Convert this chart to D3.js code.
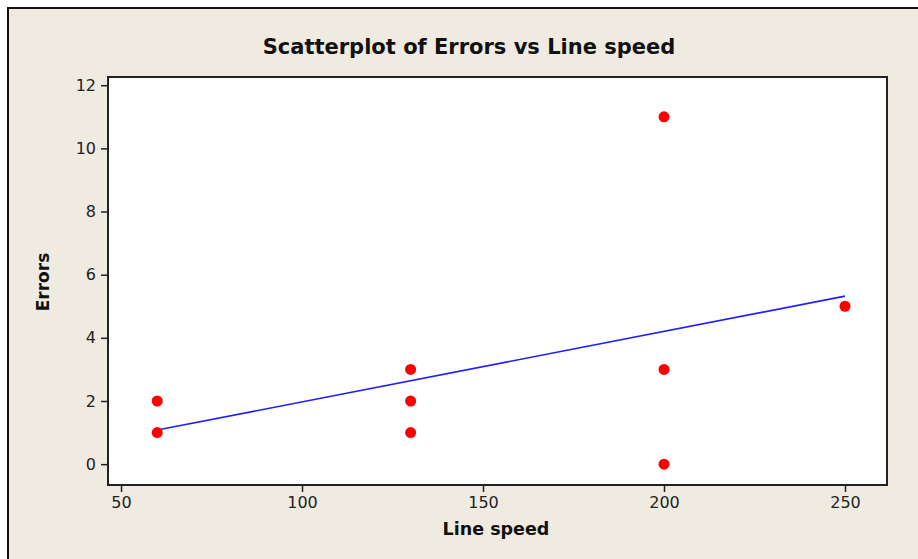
<!DOCTYPE html>
<html>
<head>
<meta charset="utf-8">
<script src="https://cdn.jsdelivr.net/npm/d3@7"></script>
<style>
  body { margin: 0; background: #ffffff; }
  svg { display: block; }
</style>
</head>
<body>
<div id="chart"></div>
<script>
// data
var lineSpeed = [60, 60, 130, 130, 130, 200, 200, 200, 250];
var errors    = [1, 2, 1, 2, 3, 0, 3, 11, 5];
// fitted line end points as drawn
var fitX = [60, 250];
var fitY = [1.08, 5.32];
var xTicks = [50, 100, 150, 200, 250];
var yTicks = [0, 2, 4, 6, 8, 10, 12];

var W = 918, H = 559;
var plot = {left: 108, top: 77, right: 887, bottom: 485};

var svg = d3.select('#chart').append('svg')
    .attr('width', W)
    .attr('height', H);

// beige panel with dark top/left frame
svg.append('rect')
    .attr('x', 0).attr('y', 0).attr('width', W).attr('height', H)
    .attr('fill', '#ffffff');
svg.append('rect')
    .attr('x', 8).attr('y', 8).attr('width', W - 8).attr('height', H - 8)
    .attr('fill', '#efebe1');
svg.append('path')
    .attr('d', 'M8,' + H + 'V8H' + W)
    .attr('fill', 'none')
    .attr('stroke', '#111')
    .attr('stroke-width', 2);

var x = d3.scaleLinear()
    .domain([46.4, 261.6])
    .range([plot.left, plot.right]);
var y = d3.scaleLinear()
    .domain([-0.66, 12.26])
    .range([plot.bottom, plot.top]);

svg.append('rect')
    .attr('x', plot.left).attr('y', plot.top)
    .attr('width', plot.right - plot.left)
    .attr('height', plot.bottom - plot.top)
    .attr('fill', '#ffffff')
    .attr('stroke', '#222')
    .attr('stroke-width', 2);

var font = 'Tahoma, "DejaVu Sans", Verdana, sans-serif';

var xAxis = svg.append('g')
    .attr('transform', `translate(0,${plot.bottom})`)
    .call(d3.axisBottom(x).tickValues(xTicks).tickSize(7).tickPadding(5).tickSizeOuter(0));
var yAxis = svg.append('g')
    .attr('transform', `translate(${plot.left},0)`)
    .call(d3.axisLeft(y).tickValues(yTicks).tickSize(7).tickPadding(5).tickSizeOuter(0));

[xAxis, yAxis].forEach(function(a) {
    a.select('.domain').remove();
    a.selectAll('line').attr('stroke', '#222').attr('stroke-width', 1.5);
    a.selectAll('text')
        .attr('fill', '#222')
        .style('font-family', font)
        .style('font-size', '16px');
});

// regression line
svg.append('path')
    .datum(d3.zip(fitX, fitY))
    .attr('fill', 'none')
    .attr('stroke', '#2020ff')
    .attr('stroke-width', 1.6)
    .attr('d', d3.line()
          .x(function(d) { return x(d[0]); })
          .y(function(d) { return y(d[1]); }));

svg.append('g')
    .selectAll('circle')
    .data(d3.zip(lineSpeed, errors))
    .join('circle')
    .attr('cx', function(d) { return x(d[0]); })
    .attr('cy', function(d) { return y(d[1]); })
    .attr('r', 5.5)
    .attr('fill', '#ff0000');

svg.append('text')
    .attr('x', 469).attr('y', 54)
    .attr('text-anchor', 'middle')
    .style('font-family', font)
    .style('font-weight', 'bold')
    .style('font-size', '21px')
    .attr('fill', '#111')
    .text('Scatterplot of Errors vs Line speed');

svg.append('text')
    .attr('x', 496).attr('y', 535)
    .attr('text-anchor', 'middle')
    .style('font-family', font)
    .style('font-weight', 'bold')
    .style('font-size', '17.5px')
    .attr('fill', '#111')
    .text('Line speed');

svg.append('text')
    .attr('transform', 'translate(49,282) rotate(-90)')
    .attr('text-anchor', 'middle')
    .style('font-family', font)
    .style('font-weight', 'bold')
    .style('font-size', '17px')
    .attr('fill', '#111')
    .text('Errors');
</script>
</body>
</html>
